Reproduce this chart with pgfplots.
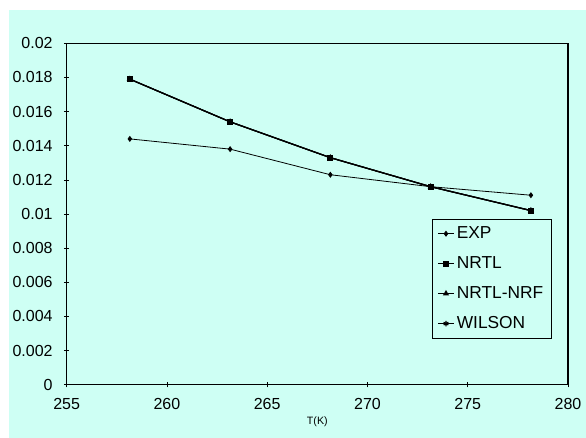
\documentclass[border=0pt]{standalone}
\usepackage{fontspec}
\setmainfont{Liberation Sans}
\usepackage{pgfplots}
\pgfplotsset{compat=1.18}
\definecolor{bgcyan}{RGB}{206,255,244}
\begin{document}
\begin{tikzpicture}
\fill[white] (0,0) rectangle (439.5pt,328.5pt);
\fill[bgcyan] (6.75pt,0) rectangle (439.5pt,321pt);
\useasboundingbox (0,0) rectangle (439.5pt,328.5pt);
\begin{axis}[
  at={(50pt,40pt)}, anchor=south west,
  scale only axis, width=376pt, height=256pt,
  xmin=255, xmax=280, ymin=0, ymax=0.02,
  xtick={255,260,265,270,275,280},
  xticklabels={255,260,265,270,275,280},
  ytick={0,0.002,0.004,0.006,0.008,0.01,0.012,0.014,0.016,0.018,0.02},
  yticklabels={0,0.002,0.004,0.006,0.008,0.01,0.012,0.014,0.016,0.018,0.02},
  scaled y ticks=false,
  tick pos=left, tick align=center,
  major tick length=4pt,
  axis line style={line width=0.8pt},
  tick style={black, line width=0.5pt},
  ticklabel style={font=\fontsize{12}{14}\selectfont},
  xticklabel style={yshift=-5pt},
  yticklabel style={xshift=-5pt},
  xlabel={T(K)}, xlabel style={font=\fontsize{8}{10}\selectfont, yshift=2pt},
  legend style={at={(0.967,0.134)}, anchor=south east, draw=black, fill=none,
    font=\fontsize{13}{15}\selectfont, row sep=8pt, inner sep=4pt},
  legend cell align=left,
  legend image code/.code={\draw[#1] (0pt,0pt) -- (0.4cm,0pt); \draw[#1, mark repeat=2, mark phase=2] plot coordinates {(0pt,0pt) (0.2cm,0pt) (0.4cm,0pt)};},
]
\addplot[black, line width=0.6pt, mark=diamond*, mark size=1.8pt] coordinates {
  (258.15,0.0144) (263.15,0.0138) (268.15,0.0123) (273.15,0.0116) (278.15,0.0111)};
\addlegendentry{EXP}
\addplot[black, line width=0.9pt, mark=square*, mark size=1.8pt] coordinates {
  (258.15,0.0179) (263.15,0.0154) (268.15,0.0133) (273.15,0.0116) (278.15,0.0102)};
\addlegendentry{NRTL}
\addplot[black, line width=0.9pt, mark=triangle*, mark size=1.8pt] coordinates {
  (258.15,0.0179) (263.15,0.0154) (268.15,0.0133) (273.15,0.0116) (278.15,0.0102)};
\addlegendentry{NRTL-NRF}
\addplot[black, line width=0.9pt, mark=asterisk, mark size=2pt] coordinates {
  (258.15,0.0179) (263.15,0.0154) (268.15,0.0133) (273.15,0.0116) (278.15,0.0102)};
\addlegendentry{WILSON}
\end{axis}
\end{tikzpicture}
\end{document}
